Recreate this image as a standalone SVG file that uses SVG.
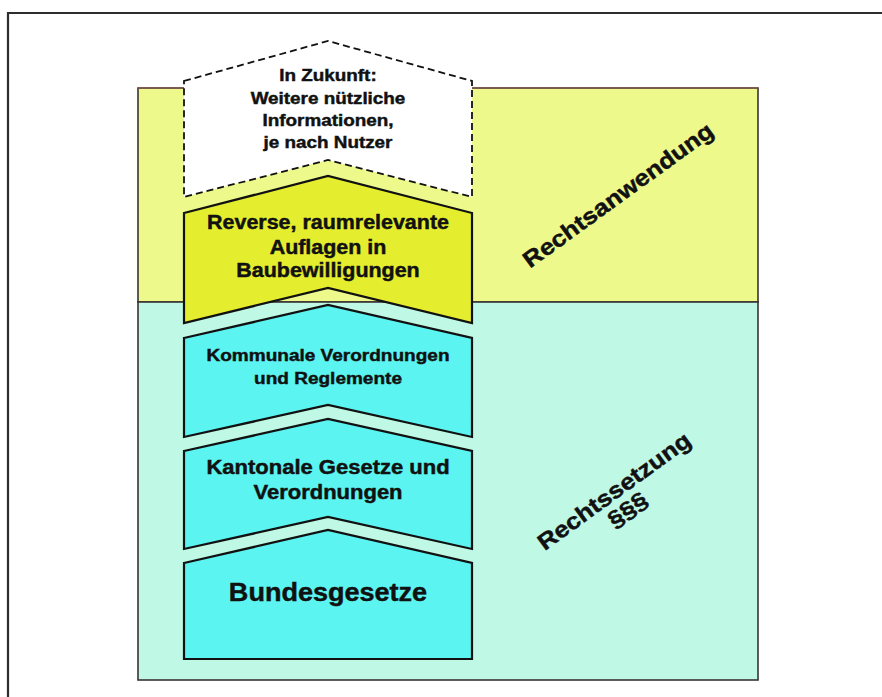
<svg xmlns="http://www.w3.org/2000/svg" width="882" height="697" viewBox="0 0 882 697">
  <style>
    .frame { fill: none; stroke: #2e2e2e; stroke-width: 2.2; }
    .zone { stroke: #3a3434; stroke-width: 1.6; }
    .zone-apply { fill: #EEF98C; }
    .zone-set { fill: #BFF9E6; }
    .chev { stroke: #111; stroke-width: 2.2; stroke-linejoin: miter; }
    .chev-future { fill: #FFFFFF; stroke-dasharray: 7 4; stroke-width: 1.8; }
    .chev-yellow { fill: #E5EE2E; }
    .chev-cyan { fill: #5BF4F0; }
    text { font-family: "Liberation Sans", Arial, sans-serif; font-weight: bold; fill: #111; stroke: #111; stroke-width: 0.45; text-anchor: middle; }
  </style>

  <!-- outer frame (top and left edges) -->
  <path class="frame" d="M8 697 V13 H882"/>

  <!-- zones: application above, legislation below -->
  <g id="zone-rechtsanwendung">
    <rect class="zone zone-apply" x="138" y="88" width="620" height="214"/>
    <line x1="138" y1="88" x2="758" y2="88" stroke="#9a5a50" stroke-width="1.2"/>
    <g transform="translate(618 195) rotate(-36) scale(1.12 1)">
      <text x="0" y="8" font-size="23">Rechtsanwendung</text>
    </g>
  </g>
  <g id="zone-rechtssetzung">
    <rect class="zone zone-set" x="138" y="302" width="620" height="378"/>
    <g transform="translate(614 491) rotate(-36) scale(1.12 1)">
      <text x="0" y="8" font-size="23">Rechtssetzung</text>
      <text x="0" y="31" font-size="23">§§§</text>
    </g>
  </g>

  <!-- stacked chevrons -->
  <g id="node-zukunft">
    <path class="chev chev-future" d="M184 81 L328 41 L472 81 L472 197 L328 160 L184 197 Z"/>
    <g transform="translate(328 0) scale(1.11 1)" font-size="17">
      <text x="0" y="81">In Zukunft:</text>
      <text x="0" y="104">Weitere nützliche</text>
      <text x="0" y="126">Informationen,</text>
      <text x="0" y="148">je nach Nutzer</text>
    </g>
  </g>

  <g id="node-auflagen">
    <path class="chev chev-yellow" d="M184 213 L328 176 L472 213 L472 323 L328 288 L184 323 Z"/>
    <g transform="translate(328 0) scale(1.1 1)" font-size="19.5">
      <text x="0" y="229">Reverse, raumrelevante</text>
      <text x="0" y="254">Auflagen in</text>
      <text x="0" y="277">Baubewilligungen</text>
    </g>
  </g>

  <g id="node-kommunal">
    <path class="chev chev-cyan" d="M184 338 L328 305 L472 338 L472 437 L328 405 L184 437 Z"/>
    <g transform="translate(328 0) scale(1.1 1)" font-size="17.3">
      <text x="0" y="361">Kommunale Verordnungen</text>
      <text x="0" y="384">und Reglemente</text>
    </g>
  </g>

  <g id="node-kantonal">
    <path class="chev chev-cyan" d="M184 451 L328 419 L472 451 L472 549 L328 517 L184 549 Z"/>
    <g transform="translate(328 0) scale(1.1 1)" font-size="20">
      <text x="0" y="474">Kantonale Gesetze und</text>
      <text x="0" y="499">Verordnungen</text>
    </g>
  </g>

  <g id="node-bund">
    <path class="chev chev-cyan" d="M184 563 L328 530 L472 563 L472 659 L184 659 Z"/>
    <g transform="translate(328 0) scale(1.04 1)" font-size="26">
      <text x="0" y="601">Bundesgesetze</text>
    </g>
  </g>

  <!-- no connectors: the chevrons stack directly -->
  <g id="connectors"/>
</svg>
